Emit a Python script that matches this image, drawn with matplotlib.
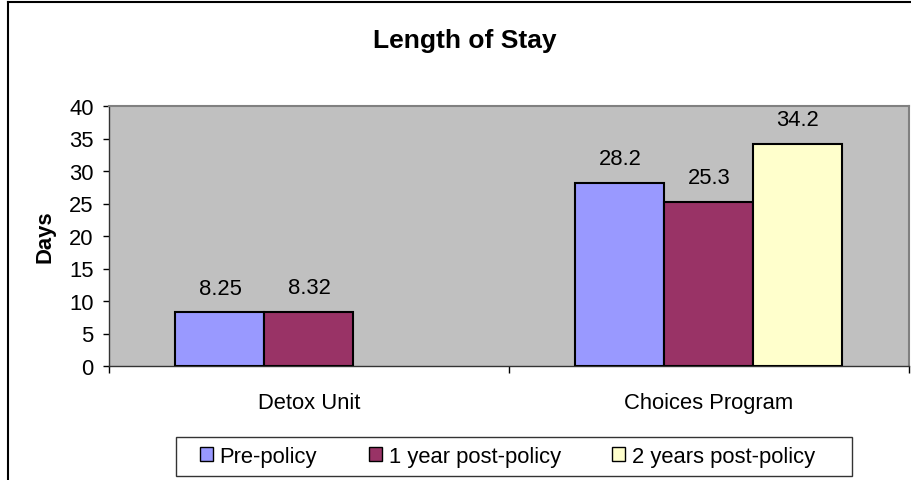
import matplotlib
matplotlib.use("Agg")
import matplotlib.pyplot as plt
from matplotlib.lines import Line2D
from matplotlib.patches import Patch, Rectangle
import numpy as np

categories = ["Detox Unit", "Choices Program"]
series_names = ["Pre-policy", "1 year post-policy", "2 years post-policy"]
pre_policy = [8.25, 28.2]
one_year_post = [8.32, 25.3]
two_years_post = [None, 34.2]
series_colors = ["#9999FF", "#993366", "#FFFFCC"]
y_ticks = [0, 5, 10, 15, 20, 25, 30, 35, 40]

plt.rcParams["font.family"] = ["Liberation Sans", "DejaVu Sans"]
FS = 15.8

W, H = 912, 481
fig = plt.figure(figsize=(W / 100, H / 100), dpi=100)
fig.patch.set_facecolor("white")

ax = fig.add_axes([109 / W, 1 - 367 / H, 800 / W, 260 / H])
ax.set_facecolor("#C0C0C0")

bar_w = 0.2225
x = np.arange(len(categories))
all_series = [pre_policy, one_year_post, two_years_post]
for i, (vals, name, col) in enumerate(zip(all_series, series_names, series_colors)):
    xs = x + (i - 1) * bar_w
    for xi, v in zip(xs, vals):
        if v is None:
            continue
        ax.bar(xi, v, width=bar_w, color=col, edgecolor="black", linewidth=1.5, zorder=3)
        ax.annotate(f"{v:g}", (xi, v), xytext=(0, 17.3), textcoords="offset points",
                    ha="center", va="center", fontsize=FS)

ax.set_xlim(-0.5, len(categories) - 0.5)
ax.set_ylim(0, 40)
ax.set_yticks(y_ticks)
ax.tick_params(axis="y", direction="out", length=4.5, width=1, labelsize=FS, pad=6.5, colors="black")
ax.set_xticks(x)
ax.set_xticklabels(categories, fontsize=FS)
ax.tick_params(axis="x", which="major", length=0, pad=18.5)
ax.set_xticks(np.arange(len(categories) + 1) - 0.5, minor=True)
ax.tick_params(axis="x", which="minor", direction="out", length=5, width=1)

for s in ["top", "right"]:
    ax.spines[s].set_color("#808080")
    ax.spines[s].set_linewidth(1.5)
ax.spines["left"].set_color("#333333")
ax.spines["bottom"].set_color("#333333")
ax.spines["left"].set_linewidth(1)
ax.spines["bottom"].set_linewidth(1)

ax.set_ylabel("Days", fontsize=FS, fontweight="bold", labelpad=10)

fig.text(465 / W, 1 - 41 / H, "Length of Stay", ha="center", va="center",
         fontsize=19, fontweight="bold")

# legend frame and entries
fig.add_artist(Rectangle((176 / W, 1 - 477 / H), 676 / W, 39 / H, transform=fig.transFigure,
                         facecolor="white", edgecolor="#333333", linewidth=1))
handles = [Patch(facecolor=c, edgecolor="black", linewidth=1) for c in series_colors]
leg = fig.legend(handles, series_names, loc="center left", bbox_to_anchor=(200 / W, 1 - 457.5 / H),
                 ncol=3, fontsize=FS, frameon=False, borderpad=0, borderaxespad=0,
                 handlelength=0.6, handleheight=0.6, handletextpad=0.3, columnspacing=2.35)

# outer chart border
fig.add_artist(Line2D([8 / W, 8 / W], [1 - 3 / H, 0], transform=fig.transFigure, color="black", lw=1.5))
fig.add_artist(Line2D([8 / W, 1], [1 - 3 / H, 1 - 3 / H], transform=fig.transFigure, color="black", lw=1.5))

fig.savefig("out.png", dpi=100)
